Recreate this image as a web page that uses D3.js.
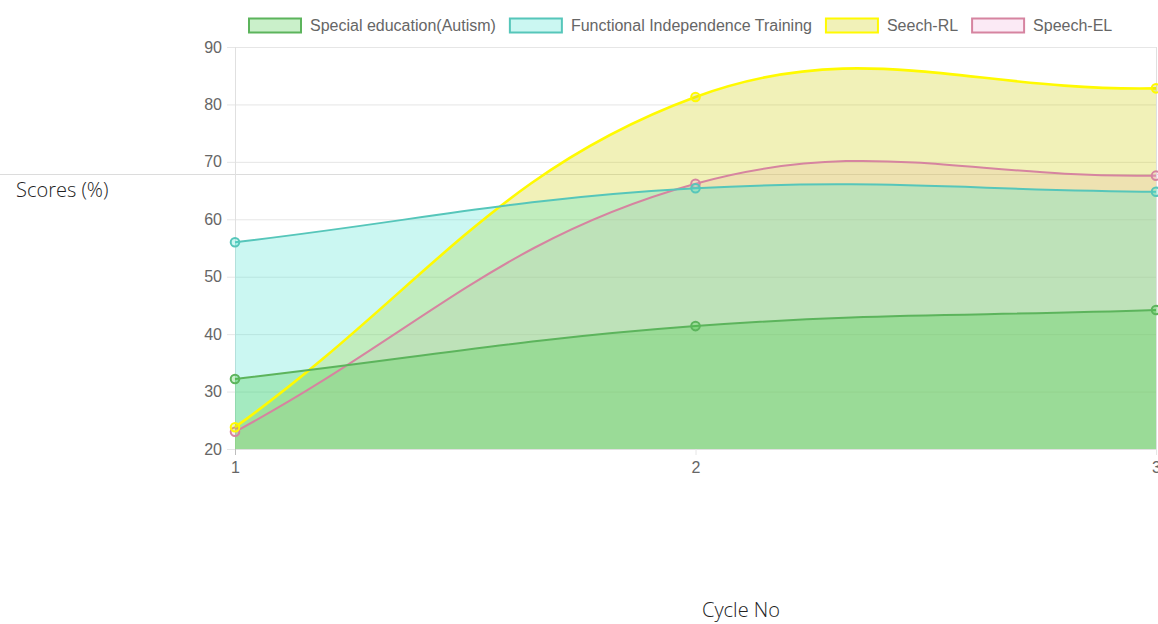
<!DOCTYPE html>
<html lang="en">
<head>
<meta charset="utf-8">
<title>Scores by cycle</title>
<script src="https://d3js.org/d3.v7.min.js"></script>
<style>
  body { margin: 0; background: #fff; }
  svg text { font-family: "Liberation Sans", Arial, sans-serif; }
  .tick text { fill: #666; font-size: 16px; }
  .title { font-family: "Open Sans", "Noto Sans", sans-serif !important; font-weight: 300; fill: #222; font-size: 20px; }
</style>
</head>
<body>
<script>
// data
var cycles = [1, 2, 3];
var seriesNames = ["Special education(Autism)", "Functional Independence Training", "Seech-RL", "Speech-EL"];
var specialEd = [32.2, 41.4, 44.2];
var functional = [56.0, 65.4, 64.8];
var speechRL = [23.8, 81.3, 82.8];
var speechEL = [23.0, 66.2, 67.6];
var yTicks = [20, 30, 40, 50, 60, 70, 80, 90];

var colors = [
  { line: "rgb(92,180,92)", fill: "rgba(60,200,60,0.27)", lw: 2 },
  { line: "rgb(86,198,186)", fill: "rgba(64,224,208,0.27)", lw: 2 },
  { line: "rgb(255,250,0)", fill: "rgba(210,210,20,0.3)", lw: 2.6 },
  { line: "rgb(214,132,160)", fill: "rgba(240,170,215,0.25)", lw: 2 }
];
var allSeries = [specialEd, functional, speechRL, speechEL];

var W = 1158, H = 624;
var plotLeft = 235, plotRight = 1156, plotTop = 47, plotBottom = 449;

var svg = d3.select("body").append("svg").attr("width", W).attr("height", H);

var x = d3.scaleLinear().domain([1, 3]).range([plotLeft, plotRight]);
var y = d3.scaleLinear().domain([20, 90]).range([plotBottom, plotTop]);

// stray horizontal rule across the page
svg.append("line").attr("x1", 0).attr("x2", W).attr("y1", 174.5).attr("y2", 174.5)
  .attr("stroke", "#dcdcdc").attr("stroke-width", 1);

// grid + y axis
var yAxis = svg.append("g").attr("transform", "translate(" + plotLeft + ",0)")
  .call(d3.axisLeft(y).tickValues(yTicks).tickSize(-(plotRight - plotLeft)).tickPadding(13));
yAxis.select(".domain").remove();
yAxis.selectAll(".tick line").attr("stroke", "#e6e6e6").attr("x1", -8);

var xAxis = svg.append("g").attr("transform", "translate(0," + plotBottom + ")")
  .call(d3.axisBottom(x).tickValues(cycles).tickFormat(d3.format("d")).tickSize(-(plotBottom - plotTop)).tickPadding(13));
xAxis.select(".domain").attr("stroke", "#e0e0e0");
xAxis.selectAll(".tick line").attr("stroke", "#e6e6e6").attr("y2", 6);
xAxis.selectAll(".tick").filter(function(d) { return d === 1; }).select("line").attr("stroke", "#bdbdbd");

// chart.js style bezier (tension 0.4) in pixel space
function splinePath(pts, close) {
  var t = 0.4, cps = [];
  for (var i = 0; i < pts.length; i++) {
    var p0 = pts[Math.max(i - 1, 0)], p1 = pts[i], p2 = pts[Math.min(i + 1, pts.length - 1)];
    var d01 = Math.hypot(p1[0] - p0[0], p1[1] - p0[1]);
    var d12 = Math.hypot(p2[0] - p1[0], p2[1] - p1[1]);
    var s01 = d01 / (d01 + d12) || 0, s12 = d12 / (d01 + d12) || 0;
    var fa = t * s01, fb = t * s12;
    cps.push({
      prev: [p1[0] - fa * (p2[0] - p0[0]), p1[1] - fa * (p2[1] - p0[1])],
      next: [p1[0] + fb * (p2[0] - p0[0]), p1[1] + fb * (p2[1] - p0[1])]
    });
  }
  var p = d3.path();
  p.moveTo(pts[0][0], pts[0][1]);
  for (var j = 1; j < pts.length; j++) {
    p.bezierCurveTo(cps[j - 1].next[0], cps[j - 1].next[1], cps[j].prev[0], cps[j].prev[1], pts[j][0], pts[j][1]);
  }
  if (close) {
    p.lineTo(pts[pts.length - 1][0], y(20));
    p.lineTo(pts[0][0], y(20));
    p.closePath();
  }
  return p.toString();
}

function seriesPoints(vals) {
  return cycles.map(function(c, i) { return [x(c), y(vals[i])]; });
}

// fills first (last dataset at the bottom), then lines and points on top
var order = d3.range(allSeries.length).reverse();
var fills = svg.append("g");
order.forEach(function(k) {
  fills.append("path").attr("d", splinePath(seriesPoints(allSeries[k]), true)).attr("fill", colors[k].fill);
});
var lines = svg.append("g");
order.forEach(function(k) {
  var pts = seriesPoints(allSeries[k]);
  var g = lines.append("g");
  g.append("path").attr("d", splinePath(pts, false)).attr("fill", "none")
    .attr("stroke", colors[k].line).attr("stroke-width", colors[k].lw);
  g.selectAll("circle").data(pts).enter().append("circle")
    .attr("cx", function(d) { return d[0]; })
    .attr("cy", function(d) { return d[1]; })
    .attr("r", 4.3)
    .attr("fill", colors[k].fill)
    .attr("stroke", colors[k].line)
    .attr("stroke-width", 2);
});

// legend
var legend = svg.append("g");
var lx = 248;
seriesNames.forEach(function(name, i) {
  legend.append("rect").attr("x", lx + 1).attr("y", 18.5).attr("width", 52).attr("height", 14)
    .attr("fill", colors[i].fill).attr("stroke", colors[i].line).attr("stroke-width", 2);
  var t = legend.append("text").attr("x", lx + 62).attr("y", 31).attr("fill", "#666")
    .style("font-size", "16px").text(name);
  lx += 62 + t.node().getComputedTextLength() + 13;
});

// axis titles
svg.append("text").attr("class", "title").attr("x", 16).attr("y", 197).text("Scores (%)");
svg.append("text").attr("class", "title").attr("x", 741).attr("y", 617)
  .attr("text-anchor", "middle").text("Cycle No");
</script>
</body>
</html>
